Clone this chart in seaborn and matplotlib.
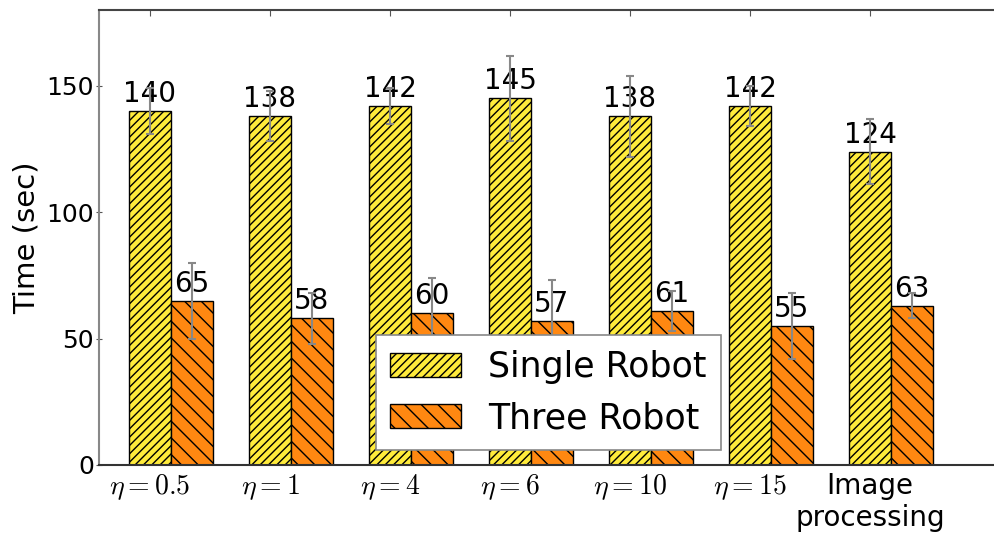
import matplotlib
matplotlib.use("Agg")
import matplotlib.pyplot as plt
import seaborn as sns
import pandas as pd

# Completion time per setting, mean and spread
categories = ["$\\eta=0.5$", "$\\eta=1$", "$\\eta=4$", "$\\eta=6$",
              "$\\eta=10$", "$\\eta=15$", "Image\nprocessing"]
single_robot = [140, 138, 142, 145, 138, 142, 124]
single_err = [9, 10, 7, 17, 16, 8, 13]
three_robot = [65, 58, 60, 57, 61, 55, 63]
three_err = [15, 10, 14, 16, 8, 13, 5]
series = ["Single Robot", "Three Robot"]

sns.set_style("white")
plt.rcParams["font.family"] = ["DejaVu Sans"]
plt.rcParams["mathtext.fontset"] = "cm"
plt.rcParams["hatch.linewidth"] = 1.0
for key in ["text.color", "axes.labelcolor", "xtick.labelcolor", "ytick.labelcolor"]:
    plt.rcParams[key] = "black"

df = pd.DataFrame({
    "setting": categories * 2,
    "robots": [series[0]] * len(categories) + [series[1]] * len(categories),
    "time": single_robot + three_robot,
})

fig = plt.figure(figsize=(9.94, 5.37), dpi=100)
# axes extends past the right edge of the canvas
ax = fig.add_axes([99 / 994, 1 - 465 / 537, 912 / 994, (465 - 10) / 537])

colors = ["#FFEB3B", "#FF8811"]
hatches = ["////", "\\\\"]
sns.barplot(data=df, x="setting", y="time", hue="robots", order=categories,
            hue_order=series, palette=colors, width=0.7, errorbar=None,
            saturation=1, edgecolor="black", linewidth=1.0, ax=ax)

errs = [single_err, three_err]
vals = [single_robot, three_robot]
centers = []
bar_groups = list(ax.containers)
for k, cont in enumerate(bar_groups):
    xs = []
    for j, p in enumerate(cont.patches):
        p.set_hatch(hatches[k])
        p.set_edgecolor("black")
        cx = p.get_x() + p.get_width() / 2
        xs.append(cx)
        ax.annotate(f"{vals[k][j]}", xy=(cx, vals[k][j]), xytext=(0, 6.5),
                    textcoords="offset points", ha="center", va="baseline",
                    fontsize=20, color="black")
    ax.errorbar(xs, vals[k], yerr=errs[k], fmt="none", ecolor="#888888",
                elinewidth=1.5, capsize=3, capthick=1.5, zorder=3)
    centers.append(xs)

ax.set_xlim(-0.6, 7.0)
ax.set_ylim(0, 180)
ax.set_yticks([0, 50, 100, 150])
ax.set_xticks(centers[0])
ax.set_xticklabels(categories, fontsize=20)
ax.set_xlabel("")
ax.set_ylabel("Time (sec)", fontsize=21, labelpad=4)

ax.tick_params(axis="y", labelsize=18, direction="inout", length=5, pad=1,
               left=True, color="#555555")
ax.tick_params(axis="x", direction="in", length=4, pad=5, bottom=True,
               top=True, color="#555555")

for side in ["top", "bottom", "left", "right"]:
    ax.spines[side].set_visible(True)
    ax.spines[side].set_linewidth(1.5)
ax.spines["left"].set_color("#888888")
ax.spines["top"].set_color("#444444")
ax.spines["bottom"].set_color("#333333")

handles, labels = ax.get_legend_handles_labels()
handles, labels = handles[:2], labels[:2]
for h, hat in zip(handles, hatches):
    h.set_hatch(hat)
    h.set_edgecolor("black")
leg = ax.legend(handles, labels, loc="lower center",
                bbox_to_anchor=(548.5 / 994, 1 - 450 / 537),
                bbox_transform=fig.transFigure, borderaxespad=0,
                fontsize=25, handlelength=2.05, handleheight=0.7,
                handletextpad=0.78, labelspacing=0.5, borderpad=0.42,
                fancybox=False, framealpha=1, title=None)
leg.get_frame().set_edgecolor("#888888")
leg.get_frame().set_linewidth(1.2)
leg.set_zorder(5)

fig.savefig("out.png", dpi=100)
